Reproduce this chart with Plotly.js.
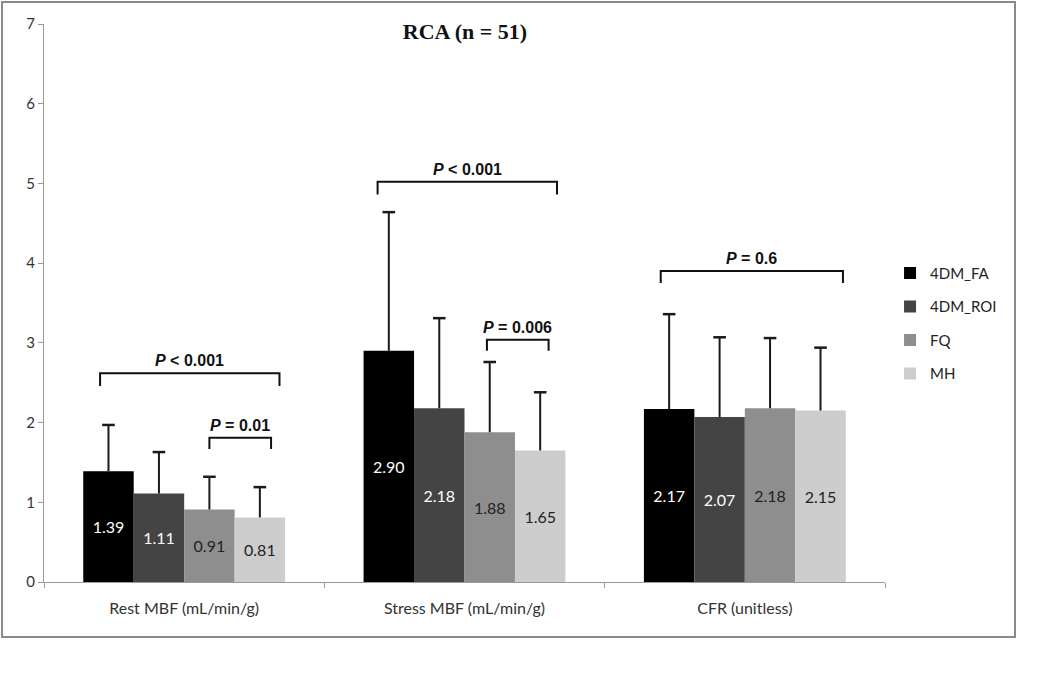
<!DOCTYPE html>
<html>
<head>
<meta charset="utf-8">
<script src="https://cdn.plot.ly/plotly-3.0.1.min.js"></script>
<style>html,body{margin:0;padding:0;background:#fff}#chart{width:1050px;height:686px}</style>
</head>
<body>
<div id="chart"></div>
<script>
const categories = ["Rest MBF (mL/min/g)", "Stress MBF (mL/min/g)", "CFR (unitless)"];
const seriesNames = ["4DM_FA", "4DM_ROI", "FQ", "MH"];
const fa   = [1.39, 2.90, 2.17];
const roi  = [1.11, 2.18, 2.07];
const fq   = [0.91, 1.88, 2.18];
const mh   = [0.81, 1.65, 2.15];
const faSD  = [0.58, 1.74, 1.19];
const roiSD = [0.52, 1.13, 1.00];
const fqSD  = [0.41, 0.88, 0.88];
const mhSD  = [0.38, 0.73, 0.79];
const yTicks = [0, 1, 2, 3, 4, 5, 6, 7];
const pLabels = ["P < 0.001", "P = 0.01", "P < 0.001", "P = 0.006", "P = 0.6"];

const values = [fa, roi, fq, mh];
const sds = [faSD, roiSD, fqSD, mhSD];
const colors = ["#000000", "#444444", "#8e8e8e", "#cdcdcd"];
const textColors = ["#ffffff", "#ffffff", "#222222", "#222222"];
const labelFont = "Lato, 'Open Sans', sans-serif";
const barGap = 0.28;
const nS = values.length;
const barW = (1 - barGap) / nS;

const traces = values.map((v, i) => ({
  type: "bar",
  name: seriesNames[i],
  legendgroup: "g" + i,
  x: categories,
  y: v,
  marker: {color: colors[i], line: {width: 0}},
  text: v.map(d => d.toFixed(2)),
  textposition: "inside",
  insidetextanchor: "middle",
  textangle: 0,
  textfont: {family: labelFont, size: 16, color: textColors[i]},
  error_y: {type: "data", symmetric: false, array: sds[i], arrayminus: sds[i].map(() => 0),
            color: "#1a1a1a", thickness: 2, width: 0},
  hoverinfo: "x+y+name"
}));

// error bar caps (drawn on a hidden linear overlay axis aligned with the category axis)
values.forEach((v, i) => {
  const off = -(1 - barGap) / 2 + barW * (i + 0.5);
  traces.push({
    type: "scatter", mode: "markers", xaxis: "x2", yaxis: "y",
    x: categories.map((c, k) => k + off),
    y: v.map((d, k) => d + sds[i][k]),
    marker: {symbol: "line-ew", size: 9, color: "#1a1a1a", line: {color: "#1a1a1a", width: 2.5}},
    showlegend: false, hoverinfo: "skip"
  });
});

// brackets: [category index, left offset, right offset, top y, drop, label index]
const brackets = [
  [0, -0.30, 0.34, 2.62, 0.16, 0],
  [0,  0.09, 0.31, 1.81, 0.14, 1],
  [1, -0.31, 0.33, 5.02, 0.16, 2],
  [1,  0.08, 0.30, 3.04, 0.14, 3],
  [2, -0.30, 0.35, 3.90, 0.15, 4]
];
const shapes = [];
const annotations = [];
brackets.forEach(b => {
  const [c, l, r, y, d, li] = b;
  const x0 = c + l, x1 = c + r;
  shapes.push({type: "path", xref: "x2", yref: "y",
    path: `M ${x0} ${y - d} L ${x0} ${y} L ${x1} ${y} L ${x1} ${y - d}`,
    line: {color: "#111", width: 2}});
  const txt = pLabels[li].replace("<", "&lt;").replace(/^P/, "<i>P</i>");
  annotations.push({xref: "x2", yref: "y", x: (x0 + x1) / 2, y: y, yshift: 2,
    text: "<b>" + txt + "</b>", showarrow: false, yanchor: "bottom",
    font: {family: "'Liberation Sans', Arial, sans-serif", size: 16, color: "#111"}});
});
// outer frame
shapes.push({type: "rect", xref: "paper", yref: "paper",
  x0: -0.0499, x1: 1.1546, y0: -0.0986, y1: 1.0394,
  line: {color: "#8a8a8a", width: 2}, fillcolor: "rgba(0,0,0,0)", layer: "below"});

const layout = {
  width: 1050, height: 686,
  margin: {l: 44, r: 165, t: 24, b: 104},
  paper_bgcolor: "#fff", plot_bgcolor: "#fff",
  barmode: "group", bargap: barGap, bargroupgap: 0,
  title: {text: "<b>RCA (n = 51)</b>", x: 465 / 1050, xanchor: "center", y: 1 - 31 / 686, yanchor: "middle",
          font: {family: "'Liberation Serif', 'Times New Roman', serif", size: 22, color: "#111"}},
  xaxis: {type: "category", showline: true, linecolor: "#9a9a9a", linewidth: 1,
          ticks: "outside", tickson: "boundaries", ticklen: 5, tickcolor: "#9a9a9a",
          showgrid: false, zeroline: false, ticklabelstandoff: 12,
          tickfont: {family: labelFont, size: 16, color: "#333"}, fixedrange: true},
  xaxis2: {overlaying: "x", type: "linear", range: [-0.5, 2.5], visible: false, fixedrange: true},
  yaxis: {range: [0, 7], tickvals: yTicks, ticktext: yTicks.map(String),
          showline: true, linecolor: "#9a9a9a", linewidth: 1, ticks: "outside", ticklen: 5,
          tickcolor: "#9a9a9a", showgrid: false, zeroline: false,
          tickfont: {family: labelFont, size: 15, color: "#333"}, fixedrange: true},
  legend: {x: 1.006, y: 0.583, xanchor: "left", yanchor: "top", traceorder: "grouped",
           tracegroupgap: 11, font: {family: labelFont, size: 15, color: "#222"},
           itemwidth: 30, bgcolor: "rgba(0,0,0,0)"},
  shapes: shapes,
  annotations: annotations,
  showlegend: true
};

Plotly.newPlot("chart", traces, layout, {displayModeBar: false, staticPlot: true});
</script>
</body>
</html>
